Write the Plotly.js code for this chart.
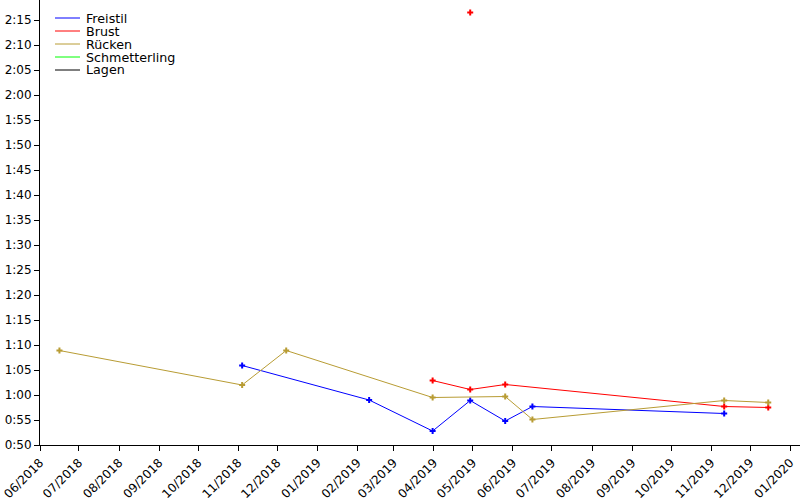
<!DOCTYPE html>
<html>
<head>
<meta charset="utf-8">
<script src="https://cdn.plot.ly/plotly-3.0.1.min.js"></script>
<style>html,body{margin:0;padding:0;background:#fff;}#chart{width:800px;height:500px;}</style>
</head>
<body>
<div id="chart"></div>
<script>
// Series names and colours
const seriesNames = ["Freistil", "Brust", "Rücken", "Schmetterling", "Lagen"];
const seriesColors = ["#0000ff", "#ff0000", "#b89c34", "#00ff00", "#000000"];

// Freistil (seconds)
const freistilDates = ["2018-11-04", "2019-02-10", "2019-03-31", "2019-04-29", "2019-05-26", "2019-06-16", "2019-11-11"];
const freistilTimes = [65.9, 59.0, 52.8, 58.9, 54.8, 57.7, 56.3];

// Brust (seconds)
const brustDates = ["2019-03-31", "2019-04-29", "2019-05-26", "2019-11-11", "2019-12-15"];
const brustTimes = [62.9, 61.1, 62.1, 57.7, 57.5];
const brustExtraDates = ["2019-04-29"];
const brustExtraTimes = [136.5];

// Rücken (seconds)
const rueckenDates = ["2018-06-16", "2018-11-04", "2018-12-08", "2019-03-31", "2019-05-26", "2019-06-16", "2019-11-11", "2019-12-15"];
const rueckenTimes = [68.9, 62.0, 68.9, 59.5, 59.7, 55.1, 58.9, 58.5];

// Schmetterling, Lagen (no points)
const schmetterlingDates = [];
const schmetterlingTimes = [];
const lagenDates = [];
const lagenTimes = [];

// Y tick labels
const yTickVals = [50, 55, 60, 65, 70, 75, 80, 85, 90, 95, 100, 105, 110, 115, 120, 125, 130, 135];
const yTickText = ["0:50", "0:55", "1:00", "1:05", "1:10", "1:15", "1:20", "1:25", "1:30", "1:35", "1:40", "1:45", "1:50", "1:55", "2:00", "2:05", "2:10", "2:15"];

const xRange = ["2018-06-01", "2020-01-08 12:00"];
const yRange = [50, 139];

function tr(x, y, i, mode) {
  return {
    x: x, y: y, type: "scatter", mode: mode || "lines+markers",
    name: seriesNames[i], showlegend: false,
    line: {color: seriesColors[i], width: 1},
    marker: {color: seriesColors[i], symbol: "cross", size: 5, line: {width: 0}},
    hoverinfo: "skip"
  };
}

const data = [
  tr(freistilDates, freistilTimes, 0),
  tr(brustDates, brustTimes, 1),
  tr(brustExtraDates, brustExtraTimes, 1, "markers"),
  tr(rueckenDates, rueckenTimes, 2),
  tr(schmetterlingDates, schmetterlingTimes, 3),
  tr(lagenDates, lagenTimes, 4)
];

// Manual compact legend
const shapes = [];
const annotations = [];
const legX0 = 55, legX1 = 80, legTextX = 84, legY0 = 18, legStep = 13;
seriesNames.forEach(function (n, i) {
  const ypx = legY0 + i * legStep;
  const yp = 1 - ypx / 445;
  shapes.push({type: "line", xref: "paper", yref: "paper",
    x0: (legX0 - 40) / 760, x1: (legX1 - 40) / 760, y0: yp, y1: yp,
    line: {color: seriesColors[i], width: 1}});
  annotations.push({xref: "paper", yref: "paper", x: (legTextX - 40) / 760, y: yp,
    xanchor: "left", yanchor: "middle", showarrow: false, text: n,
    font: {family: "DejaVu Sans", size: 12.7, color: "#000"}});
});

const font = {family: "DejaVu Sans", size: 12, color: "#000"};

const layout = {
  width: 800, height: 500,
  margin: {l: 40, r: 0, t: 0, b: 55, pad: 0},
  paper_bgcolor: "#fff", plot_bgcolor: "#fff",
  font: font,
  showlegend: false,
  xaxis: {
    type: "date", range: xRange, showgrid: false, zeroline: false,
    showline: true, linecolor: "#000", linewidth: 1,
    ticks: "outside", ticklen: 5, tickcolor: "#000", tickwidth: 1,
    tick0: "2018-06-01", dtick: "M1", tickformat: "%m/%Y", tickangle: -45,
    tickfont: font
  },
  xaxis2: {
    type: "date", range: xRange, overlaying: "x", anchor: "y", side: "bottom",
    showgrid: false, zeroline: false, showline: false,
    ticks: "inside", ticklen: 5, tickcolor: "#000", tickwidth: 1,
    tick0: "2018-06-01", dtick: "M1", showticklabels: false
  },
  yaxis: {
    range: yRange, showgrid: false, zeroline: false,
    showline: true, linecolor: "#000", linewidth: 1,
    ticks: "outside", ticklen: 5, tickcolor: "#000", tickwidth: 1,
    tickmode: "array", tickvals: yTickVals, ticktext: yTickText,
    tickfont: font
  },
  yaxis2: {
    range: yRange, overlaying: "y", anchor: "x", side: "left",
    showgrid: false, zeroline: false, showline: false,
    ticks: "inside", ticklen: 5, tickcolor: "#000", tickwidth: 1,
    tickmode: "array", tickvals: yTickVals, showticklabels: false
  },
  shapes: shapes,
  annotations: annotations
};

Plotly.newPlot("chart", data, layout, {staticPlot: true, displayModeBar: false});
</script>
</body>
</html>
